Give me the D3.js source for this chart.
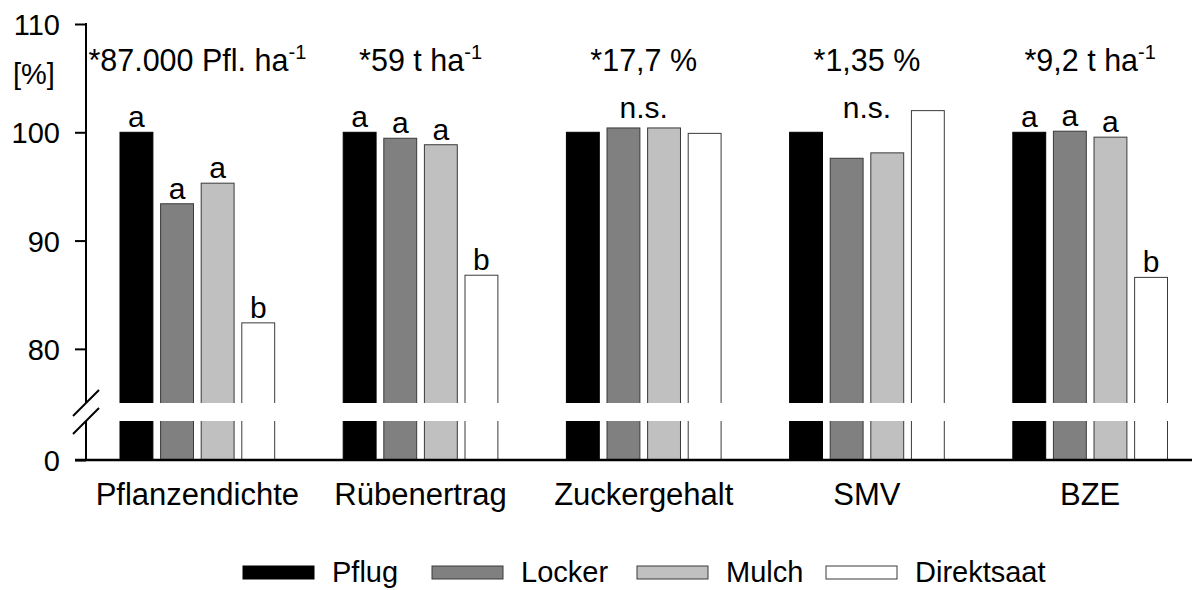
<!DOCTYPE html>
<html>
<head>
<meta charset="utf-8">
<script src="https://cdn.jsdelivr.net/npm/d3@7"></script>
<style>
  body { margin: 0; background: #fff; }
  svg text { font-family: "Liberation Sans", Arial, Helvetica, sans-serif; fill: #000; }
</style>
</head>
<body>
<svg id="chart" width="1192" height="590"></svg>
<script>
// Relative values (Pflug = 100 %) per trait and tillage system
const categories = ["Pflanzendichte", "Rübenertrag", "Zuckergehalt", "SMV", "BZE"];
const series = ["Pflug", "Locker", "Mulch", "Direktsaat"];
const pflug      = [100, 100, 100, 100, 100];
const locker     = [93.4, 99.45, 100.4, 97.6, 100.1];
const mulch      = [95.3, 98.85, 100.4, 98.1, 99.55];
const direktsaat = [82.4, 86.8, 99.9, 102.0, 86.6];

// Absolute reference values of the Pflug variant
const refText = ["*87.000 Pfl. ha", "*59 t ha", "*17,7 %", "*1,35 %", "*9,2 t ha"];
const refSup  = ["-1", "-1", "", "", "-1"];

// Significance letters (null = not significant)
const letters = [["a", "a", "a", "b"], ["a", "a", "a", "b"], null, null, ["a", "a", "a", "b"]];
const nsLabel = "n.s.";

const yTickValues = [0, 80, 90, 100, 110];
const yUnit = "[%]";
const fills = ["#000000", "#808080", "#c0c0c0", "#ffffff"];

const valuesBySeries = [pflug, locker, mulch, direktsaat];
const data = categories.map((c, i) => ({
  category: c,
  bars: series.map((s, j) => ({ series: s, j, value: valuesBySeries[j][i] }))
}));

const svg = d3.select("#chart");

// Broken y scale: 0..75 squeezed below the break, 75..110 above it
const y = d3.scaleLinear().domain([0, 75, 110]).range([460, 403, 24]);
const breakTop = 403, breakBottom = 421;

const x0 = d3.scaleBand().domain(categories).range([120, 1167.5]).paddingInner(0.307).paddingOuter(0);
const x1 = d3.scaleBand().domain(series).range([0, x0.bandwidth()]).paddingInner(0.19);

// Bars
const groups = svg.append("g").selectAll("g").data(data).join("g")
  .attr("transform", d => `translate(${x0(d.category)},0)`);

groups.selectAll("rect").data(d => d.bars).join("rect")
  .attr("x", d => x1(d.series))
  .attr("y", d => y(d.value))
  .attr("width", x1.bandwidth())
  .attr("height", d => y(0) - y(d.value))
  .attr("fill", d => fills[d.j])
  .attr("stroke", d => d.j === 0 ? "#000" : "#3a3a3a")
  .attr("stroke-width", 1);

// White gap across the bars at the axis break
svg.append("rect")
  .attr("x", 100).attr("y", breakTop)
  .attr("width", 1192 - 100).attr("height", breakBottom - breakTop)
  .attr("fill", "#fff");

// Significance letters
groups.each(function(d, i) {
  const g = d3.select(this);
  if (letters[i]) {
    g.selectAll("text.sig").data(d.bars).join("text")
      .attr("class", "sig")
      .attr("x", b => x1(b.series) + x1.bandwidth() / 2)
      .attr("y", b => y(b.value) - 5)
      .attr("text-anchor", "middle")
      .attr("font-size", 30)
      .text(b => letters[i][b.j]);
  } else {
    g.append("text")
      .attr("x", x0.bandwidth() / 2)
      .attr("y", y(100) - 14)
      .attr("text-anchor", "middle")
      .attr("font-size", 30)
      .text(nsLabel);
  }
});

// Reference values above each group
categories.forEach((c, i) => {
  const t = svg.append("text")
    .attr("x", x0(c) + x0.bandwidth() / 2)
    .attr("y", 71)
    .attr("text-anchor", "middle")
    .attr("font-size", 30.5);
  t.append("tspan").text(refText[i]);
  if (refSup[i]) {
    t.append("tspan").attr("font-size", 20).attr("dy", -12).text(refSup[i]);
  }
});

// X axis line and category labels
svg.append("line")
  .attr("x1", 75).attr("x2", 1192)
  .attr("y1", y(0)).attr("y2", y(0))
  .attr("stroke", "#000").attr("stroke-width", 2.5);

svg.append("g").selectAll("text").data(categories).join("text")
  .attr("x", c => x0(c) + x0.bandwidth() / 2)
  .attr("y", 505)
  .attr("text-anchor", "middle")
  .attr("font-size", 31)
  .text(c => c);

// Y axis with break marks
const axisX = 86;
const yAxis = svg.append("g")
  .attr("transform", `translate(${axisX},0)`)
  .call(d3.axisLeft(y).tickValues(yTickValues).tickSize(11).tickPadding(15).tickFormat(d3.format("d")));
yAxis.select(".domain").remove();
yAxis.selectAll(".tick line").attr("stroke", "#000").attr("stroke-width", 2);
yAxis.selectAll(".tick text")
  .attr("font-size", 29)
  .attr("font-family", "\"Liberation Sans\", Arial, Helvetica, sans-serif")
  .attr("fill", "#000")
  .attr("dy", "0.36em");

svg.append("line").attr("x1", axisX).attr("x2", axisX).attr("y1", y(110) - 1).attr("y2", breakTop)
  .attr("stroke", "#000").attr("stroke-width", 2);
svg.append("line").attr("x1", axisX).attr("x2", axisX).attr("y1", breakBottom).attr("y2", y(0))
  .attr("stroke", "#000").attr("stroke-width", 2);
[breakTop, breakBottom].forEach(yy => {
  svg.append("line")
    .attr("x1", axisX - 13).attr("y1", yy + 13)
    .attr("x2", axisX + 13).attr("y2", yy - 13)
    .attr("stroke", "#000").attr("stroke-width", 2);
});

svg.append("text").attr("x", 13).attr("y", 84).attr("font-size", 29).text(yUnit);

// Legend: swatch, label, then the next entry
const legend = svg.append("g");
const legendStarts = [243, 432, 637, 826];
series.forEach((s, j) => {
  const lx = legendStarts[j];
  legend.append("rect")
    .attr("x", lx).attr("y", 566).attr("width", 71).attr("height", 13)
    .attr("fill", fills[j])
    .attr("stroke", j === 0 ? "#000" : "#3a3a3a").attr("stroke-width", 1);
  legend.append("text")
    .attr("x", lx + 71 + 18).attr("y", 582)
    .attr("font-size", 29)
    .text(s);
});
</script>
</body>
</html>
